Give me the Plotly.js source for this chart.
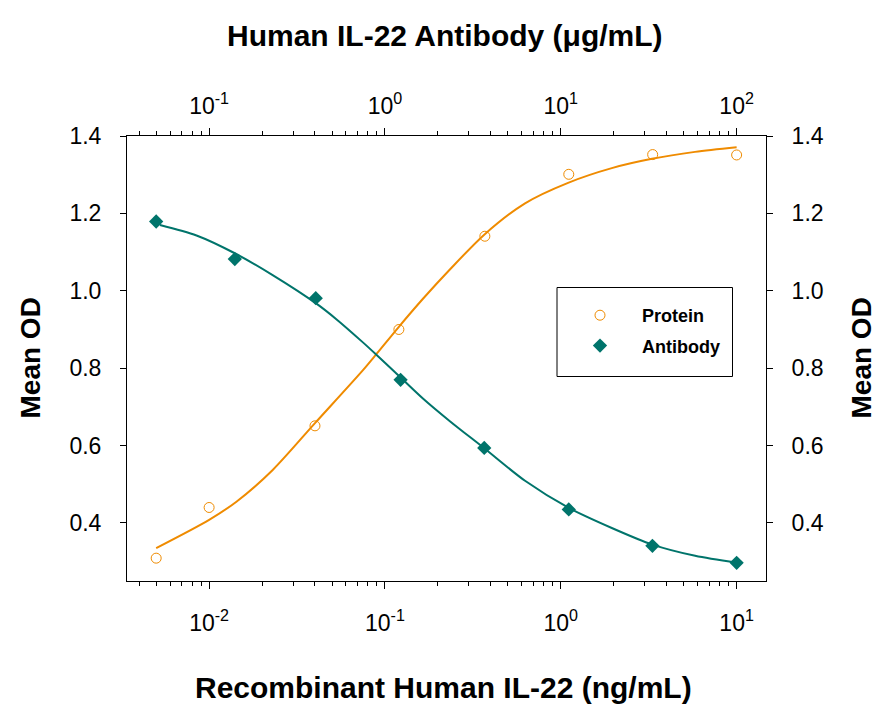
<html><head>
<meta charset="utf8"/>
<title>IL-22</title>
<script src="https://cdn.plot.ly/plotly-3.0.1.min.js"></script>
<style>
    * { margin: 0px; padding: 0px }
    #chart { width: 892px; height: 713px }
</style>
</head><body>
<div id="chart"></div>
<script>
// protein on the bottom axis (ng/mL), antibody on the top axis (ug/mL)
var proteinConc = [0.005, 0.01, 0.04, 0.12, 0.37, 1.11, 3.33, 10];
var proteinOD = [0.309, 0.440, 0.651, 0.900, 1.141, 1.301, 1.352, 1.351];
var antibodyConc = [0.05, 0.14, 0.404, 1.227, 3.67, 11.1, 33.2, 100];
var antibodyOD = [1.179, 1.082, 0.981, 0.770, 0.594, 0.435, 0.341, 0.297];

// fitted curves
var proteinFitConc = [0.005, 0.01, 0.0143, 0.023, 0.04, 0.075, 0.09, 0.12, 0.165, 0.234, 0.367, 0.626, 1.1, 1.95, 3.3, 5.8, 10];
var proteinFitOD = [0.335, 0.408, 0.455, 0.537, 0.658, 0.795, 0.838, 0.907, 0.980, 1.055, 1.145, 1.226, 1.279, 1.317, 1.341, 1.359, 1.371];
var antibodyFitConc = [0.0525, 0.0848, 0.14, 0.231, 0.404, 0.531, 0.752, 0.897, 1.227, 1.65, 2.34, 3.67, 6.26, 11.1, 19.5, 33.2, 58.1, 100];
var antibodyFitOD = [1.170, 1.143, 1.097, 1.040, 0.968, 0.926, 0.866, 0.834, 0.776, 0.721, 0.663, 0.593, 0.509, 0.439, 0.387, 0.344, 0.315, 0.297];

var bottomTicks = [0.01, 0.1, 1, 10];
var bottomLabels = ['10<sup>-2</sup>', '10<sup>-1</sup>', '10<sup>0</sup>', '10<sup>1</sup>'];
var topTicks = [0.1, 1, 10, 100];
var topLabels = ['10<sup>-1</sup>', '10<sup>0</sup>', '10<sup>1</sup>', '10<sup>2</sup>'];
var odTicks = [0.4, 0.6, 0.8, 1.0, 1.2, 1.4];

var orange = '#EF8B00';
var teal = '#00746B';
var sans = "'Liberation Sans', Arial, sans-serif";

// minor ticks 2..9 of every decade
function minors(lo, hi){
    var out = [];
    for(var d = lo; d < hi; d *= 10){
        for(var k = 2; k <= 9; k++) out.push(k * d);
    }
    return out;
}

var traces = [
    {x: proteinFitConc, y: proteinFitOD, mode: 'lines', line: {color: orange, width: 2, shape: 'spline', smoothing: 0.8},
     showlegend: false, hoverinfo: 'skip'},
    {x: antibodyFitConc, y: antibodyFitOD, xaxis: 'x2', yaxis: 'y2', mode: 'lines',
     line: {color: teal, width: 2, shape: 'spline', smoothing: 0.8}, showlegend: false, hoverinfo: 'skip'},
    {x: proteinConc, y: proteinOD, name: 'Protein', mode: 'markers', legendgroup: 'p',
     marker: {symbol: 'circle-open', size: 10, color: orange, line: {width: 1, color: orange}}},
    {x: antibodyConc, y: antibodyOD, name: 'Antibody', xaxis: 'x2', yaxis: 'y2', mode: 'markers', legendgroup: 'a',
     marker: {symbol: 'diamond', size: 11, color: teal}}
];

var tickFont = {family: sans, size: 23, color: '#000'};
var titleFont = {family: sans, size: 30, color: '#000', weight: 'bold'};
var sideFont = {family: sans, size: 28, color: '#000', weight: 'bold'};

function xAxis(extra){
    var a = {type: 'log', showgrid: false, zeroline: false, ticks: 'outside', ticklen: 7,
        tickwidth: 1, tickcolor: '#000', tickfont: tickFont, tickmode: 'array', fixedrange: true};
    for(var k in extra) a[k] = extra[k];
    return a;
}
function yAxis(extra){
    var a = {range: [0.25, 1.4], showgrid: false, zeroline: false, ticks: 'outside', ticklen: 6,
        tickwidth: 1, tickcolor: '#000', tickfont: tickFont, tickvals: odTicks, tickformat: '.1f',
        fixedrange: true};
    for(var k in extra) a[k] = extra[k];
    return a;
}

function py(p){ return (581 - p) / 445; }
function px(p){ return (p - 127) / 639; }

var layout = {
    width: 892, height: 713,
    margin: {l: 127, r: 126, t: 136, b: 132},
    paper_bgcolor: '#fff', plot_bgcolor: '#fff',
    font: {family: sans, color: '#000'},
    xaxis: xAxis({range: [-2.467, 1.167], tickvals: bottomTicks, ticktext: bottomLabels,
        showline: true, linecolor: '#000', linewidth: 1, mirror: true, ticklabelstandoff: 14,
        minor: {tickmode: 'array', tickvals: minors(0.001, 10), ticks: 'outside', ticklen: 4, tickcolor: '#000'}}),
    xaxis2: xAxis({range: [-1.467, 2.167], tickvals: topTicks, ticktext: topLabels,
        overlaying: 'x', side: 'top', anchor: 'y2', ticklabelstandoff: 5,
        minor: {tickmode: 'array', tickvals: minors(0.01, 100), ticks: 'outside', ticklen: 4, tickcolor: '#000'}}),
    yaxis: yAxis({showline: true, linecolor: '#000', linewidth: 1, mirror: true, ticklabelstandoff: 14}),
    yaxis2: yAxis({overlaying: 'y', side: 'right', anchor: 'x2', ticklabelstandoff: 14}),
    showlegend: true,
    legend: {x: px(558), xanchor: 'left', y: py(297), yanchor: 'top', bgcolor: 'rgba(0,0,0,0)',
        borderwidth: 0, itemwidth: 74, tracegroupgap: 4, font: {family: sans, size: 18, weight: 'bold'}},
    shapes: [
        {type: 'rect', xref: 'paper', yref: 'paper', x0: px(557), x1: px(732.5), y0: py(376.5), y1: py(287.5),
         line: {color: '#000', width: 1}}
    ],
    annotations: [
        {text: 'Human IL-22 Antibody (\u03bcg/mL)', xref: 'paper', yref: 'paper', x: px(445), y: py(35),
         xanchor: 'center', yanchor: 'middle', showarrow: false, font: titleFont},
        {text: 'Recombinant Human IL-22 (ng/mL)', xref: 'paper', yref: 'paper', x: px(443), y: py(687),
         xanchor: 'center', yanchor: 'middle', showarrow: false, font: titleFont},
        {text: 'Mean OD', xref: 'paper', yref: 'paper', x: px(30), y: 0.5, textangle: -90,
         xanchor: 'center', yanchor: 'middle', showarrow: false, font: sideFont},
        {text: 'Mean OD', xref: 'paper', yref: 'paper', x: px(861), y: 0.5, textangle: -90,
         xanchor: 'center', yanchor: 'middle', showarrow: false, font: sideFont}
    ]
};

Plotly.newPlot('chart', traces, layout, {displayModeBar: false, staticPlot: true});
</script>
</body></html>
